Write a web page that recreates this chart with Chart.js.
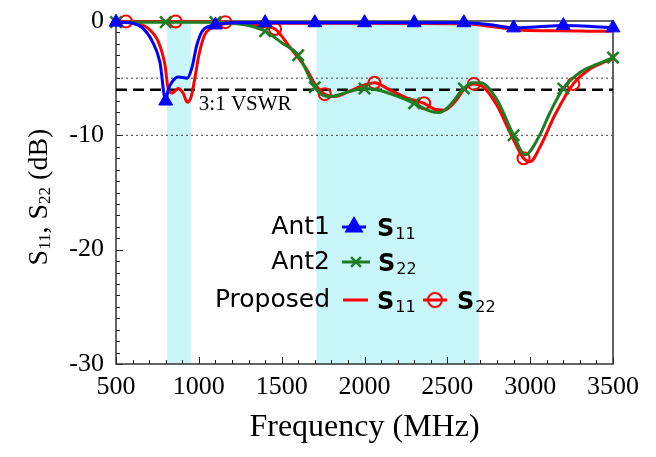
<!DOCTYPE html>
<html>
<head>
<meta charset="utf-8">
<script src="https://cdn.jsdelivr.net/npm/chart.js@4.4.1/dist/chart.umd.min.js"></script>
<style>
  html, body { margin: 0; padding: 0; background: #fff; }
</style>
</head>
<body>
<canvas id="chart" width="656" height="457"></canvas>
<script>
// Ant1 S11 (blue, triangles)
const ant1Freq = [500, 600, 660, 720, 765, 800, 815, 840, 875, 930, 958, 988, 1025, 1100, 1200, 1400, 1700, 2000, 2300, 2600, 2750, 2900, 3050, 3200, 3350, 3500];
const ant1S11 = [-0.1, -0.2, -0.6, -1.8, -3.6, -7.0, -6.0, -5.3, -4.9, -5.0, -4.1, -2.1, -0.8, -0.35, -0.15, -0.15, -0.15, -0.15, -0.15, -0.15, -0.3, -0.6, -0.5, -0.4, -0.45, -0.6];
const ant1Marks = [500, 800, 1100, 1400, 1700, 2000, 2300, 2600, 2900, 3200, 3500];

// Ant2 S22 (green, crosses)
const ant2Freq = [500, 800, 1100, 1200, 1300, 1400, 1500, 1600, 1700, 1750, 1800, 1900, 2000, 2100, 2200, 2300, 2400, 2450, 2500, 2600, 2650, 2700, 2800, 2900, 2970, 3050, 3120, 3200, 3300, 3400, 3500];
const ant2S22 = [-0.1, -0.1, -0.1, -0.2, -0.4, -0.9, -1.9, -3.0, -5.8, -6.5, -6.6, -6.2, -5.9, -6.1, -6.6, -7.2, -7.9, -8.0, -7.6, -5.9, -5.4, -5.4, -6.9, -10.0, -11.7, -10.2, -8.0, -5.9, -4.5, -3.8, -3.2];
const ant2Marks = [500, 800, 1100, 1400, 1600, 1700, 2000, 2300, 2600, 2900, 3200, 3500];

// Proposed S11 (red line)
const propFreq11 = [500, 600, 690, 755, 795, 815, 840, 875, 905, 930, 952, 976, 1000, 1036, 1100, 1200, 1500, 2000, 2600, 2800, 2950, 3200, 3450, 3500];
const propS11 = [-0.1, -0.15, -0.6, -1.8, -3.8, -5.9, -6.3, -5.9, -6.3, -7.1, -6.7, -5.0, -3.0, -1.2, -0.5, -0.2, -0.2, -0.2, -0.25, -0.55, -0.8, -0.85, -0.9, -0.85];

// Proposed S22 (red, circles)
const propFreq22 = [500, 560, 860, 1160, 1300, 1400, 1460, 1550, 1650, 1700, 1760, 1820, 1900, 1980, 2060, 2150, 2250, 2360, 2420, 2480, 2550, 2600, 2660, 2720, 2800, 2880, 2960, 3000, 3060, 3150, 3260, 3350, 3430, 3500];
const propS22 = [-0.05, -0.05, -0.05, -0.1, -0.3, -0.5, -0.7, -2.3, -4.2, -5.5, -6.4, -6.6, -6.2, -5.7, -5.4, -6.0, -6.7, -7.2, -7.7, -7.8, -7.0, -6.0, -5.5, -5.8, -7.4, -9.8, -12.0, -12.3, -11.0, -8.2, -5.5, -4.3, -3.7, -3.3];
const propMarks = [560, 860, 1160, 1460, 1760, 2060, 2360, 2660, 2960, 3260];

// shaded bands (MHz) and reference levels (dB)
const bands = [[808, 952], [1710, 2690]];
const levelVswr = -6.02;
const levelDotted = [-5, -10];

const xTicks = [500, 1000, 1500, 2000, 2500, 3000, 3500];
const yTicks = [0, -10, -20, -30];

const BLUE = "#0000ff";
const GREEN = "#1e7d22";
const RED = "#ff0000";
const SERIF = "'Liberation Serif', 'Times New Roman', serif";
const SANS = "'DejaVu Sans', Verdana, sans-serif";

Chart.defaults.font.family = SERIF;
Chart.defaults.color = "#000";

const toPoints = (xs, ys) => xs.map((x, i) => ({ x: x, y: ys[i] }));
const markRadius = (marks, r) => (ctx) => (ctx.raw && marks.includes(ctx.raw.x) ? r : 0);

const levelLine = (y, dash, width, color) => ({
  data: [{ x: 500, y: y }, { x: 3500, y: y }],
  borderColor: color,
  borderWidth: width,
  borderDash: dash,
  pointRadius: 0,
  tension: 0,
});

//Bands, frame and inner tick marks
const framePlugin = {
  id: "frame",
  beforeDatasetsDraw(chart) {
    const { ctx, chartArea: a, scales } = chart;
    ctx.save();
    ctx.fillStyle = "#c8f6f9";
    bands.forEach(([lo, hi]) => {
      const x1 = scales.x.getPixelForValue(lo);
      const x2 = scales.x.getPixelForValue(hi);
      ctx.fillRect(x1, a.top, x2 - x1, a.bottom - a.top);
    });
    ctx.strokeStyle = "#222";
    ctx.lineWidth = 1;
    ctx.beginPath();
    for (let f = 500; f <= 3500; f += 100) {
      const x = Math.round(scales.x.getPixelForValue(f)) + 0.5;
      const len = f % 500 === 0 ? 7 : 4;
      ctx.moveTo(x, a.bottom);
      ctx.lineTo(x, a.bottom - len);
    }
    for (let d = 0; d >= -30; d -= 1) {
      const y = Math.round(scales.y.getPixelForValue(d)) + 0.5;
      const len = d % 10 === 0 ? 7 : 4;
      ctx.moveTo(a.left, y);
      ctx.lineTo(a.left + len, y);
    }
    ctx.stroke();
    ctx.lineWidth = 1.5;
    ctx.strokeStyle = "#333";
    ctx.strokeRect(a.left, a.top, a.right - a.left, a.bottom - a.top);
    ctx.restore();
  },
};

// draw "S" with subscript
function drawS(ctx, sub, x, y) {
  ctx.textAlign = "left";
  ctx.textBaseline = "alphabetic";
  ctx.font = "bold 24px " + SANS;
  ctx.fillText("S", x, y + 9);
  const w = ctx.measureText("S").width;
  ctx.font = "16px " + SANS;
  ctx.fillText(sub, x + w + 1, y + 12);
}

//Legend and labels inside the plot
const labelPlugin = {
  id: "labels",
  afterDatasetsDraw(chart) {
    const { ctx, scales } = chart;
    const h = Chart.helpers;
    ctx.save();
    ctx.fillStyle = "#000";
    ctx.font = "21px " + SERIF;
    ctx.textAlign = "left";
    ctx.textBaseline = "middle";
    ctx.fillText("3:1 VSWR", scales.x.getPixelForValue(1000), scales.y.getPixelForValue(-7.3));

    const xr = 330;
    const rows = [227, 262, 300];
    const names = ["Ant1", "Ant2", "Proposed"];
    ctx.font = "25px " + SANS;
    ctx.textAlign = "right";
    names.forEach((n, i) => ctx.fillText(n, xr, rows[i]));

    // Ant1
    ctx.lineWidth = 3;
    ctx.strokeStyle = BLUE;
    ctx.fillStyle = BLUE;
    ctx.beginPath(); ctx.moveTo(342, rows[0]); ctx.lineTo(366, rows[0]); ctx.stroke();
    h.drawPoint(ctx, { pointStyle: "triangle", radius: 8, borderWidth: 1 }, 354, rows[0]);
    // Ant2
    ctx.strokeStyle = GREEN;
    ctx.beginPath(); ctx.moveTo(342, rows[1]); ctx.lineTo(370, rows[1]); ctx.stroke();
    ctx.lineWidth = 2.5;
    h.drawPoint(ctx, { pointStyle: "crossRot", radius: 7, borderWidth: 2.5 }, 356, rows[1]);
    // Proposed
    ctx.strokeStyle = RED;
    ctx.lineWidth = 3;
    ctx.beginPath(); ctx.moveTo(343, rows[2]); ctx.lineTo(368, rows[2]); ctx.stroke();
    ctx.beginPath(); ctx.moveTo(423, rows[2]); ctx.lineTo(447, rows[2]); ctx.stroke();
    ctx.lineWidth = 2;
    ctx.beginPath(); ctx.arc(435, rows[2], 7, 0, Math.PI * 2); ctx.stroke();

    ctx.fillStyle = "#000";
    drawS(ctx, "11", 377, rows[0]);
    drawS(ctx, "22", 378, rows[1]);
    drawS(ctx, "11", 377, rows[2]);
    drawS(ctx, "22", 457, rows[2]);
    ctx.restore();
  },
  afterDraw(chart) {
    // y axis title with subscripts
    const { ctx } = chart;
    const parts = [["S", 28, 0], ["11", 17, 6], [", S", 28, 0], ["22", 17, 6], [" (dB)", 28, 0]];
    ctx.save();
    ctx.translate(40, 197);
    ctx.rotate(-Math.PI / 2);
    ctx.fillStyle = "#000";
    ctx.textBaseline = "middle";
    ctx.textAlign = "left";
    let total = 0;
    parts.forEach((p) => { ctx.font = p[1] + "px " + SERIF; total += ctx.measureText(p[0]).width; });
    let x = -total / 2;
    parts.forEach((p) => {
      ctx.font = p[1] + "px " + SERIF;
      ctx.fillText(p[0], x, p[2]);
      x += ctx.measureText(p[0]).width;
    });
    ctx.restore();
  },
};

new Chart(document.getElementById("chart"), {
  type: "line",
  plugins: [framePlugin, labelPlugin],
  data: {
    datasets: [
      {
        data: toPoints(ant1Freq, ant1S11),
        borderColor: BLUE,
        backgroundColor: BLUE,
        borderWidth: 3,
        pointStyle: "triangle",
        pointRadius: markRadius(ant1Marks, 8),
        pointBorderWidth: 1,
        cubicInterpolationMode: "monotone",
      },
      {
        data: toPoints(ant2Freq, ant2S22),
        borderColor: GREEN,
        backgroundColor: GREEN,
        borderWidth: 3,
        pointStyle: "crossRot",
        pointRadius: markRadius(ant2Marks, 8),
        pointBorderWidth: 2.5,
        cubicInterpolationMode: "monotone",
      },
      {
        data: toPoints(propFreq11, propS11),
        borderColor: RED,
        borderWidth: 3,
        pointRadius: 0,
        cubicInterpolationMode: "monotone",
      },
      {
        data: toPoints(propFreq22, propS22),
        borderColor: RED,
        backgroundColor: "rgba(0,0,0,0)",
        borderWidth: 3,
        pointStyle: "circle",
        pointRadius: markRadius(propMarks, 6),
        pointBorderWidth: 2,
        cubicInterpolationMode: "monotone",
      },
      levelLine(levelVswr, [11, 6], 2.5, "#000"),
      levelLine(levelDotted[0], [2, 3], 1, "#444"),
      levelLine(levelDotted[1], [2, 3], 1, "#444"),
    ],
  },
  options: {
    responsive: false,
    animation: false,
    events: [],
    clip: false,
    layout: { padding: { top: 21, right: 43, left: 0, bottom: 0 } },
    plugins: { legend: { display: false }, tooltip: { enabled: false } },
    scales: {
      x: {
        type: "linear",
        min: 500,
        max: 3500,
        afterFit: (s) => { s.height = 93; s.paddingLeft = 0; s.paddingRight = 0; },
        afterBuildTicks: (s) => { s.ticks = xTicks.map((v) => ({ value: v })); },
        grid: { display: false, drawTicks: false },
        border: { display: false },
        ticks: { padding: 8, font: { size: 26 }, color: "#000", callback: (v) => String(v) },
        title: { display: true, text: "Frequency (MHz)", font: { size: 32 }, color: "#000", padding: { top: 0, bottom: 10 } },
      },
      y: {
        min: -30,
        max: 0,
        afterFit: (s) => { s.width = 116; s.paddingTop = 0; s.paddingBottom = 0; },
        afterBuildTicks: (s) => { s.ticks = yTicks.map((v) => ({ value: v })); },
        grid: { display: false, drawTicks: false },
        border: { display: false },
        ticks: { padding: 12, font: { size: 26 }, color: "#000", callback: (v) => String(v) },
      },
    },
  },
});
</script>
</body>
</html>
